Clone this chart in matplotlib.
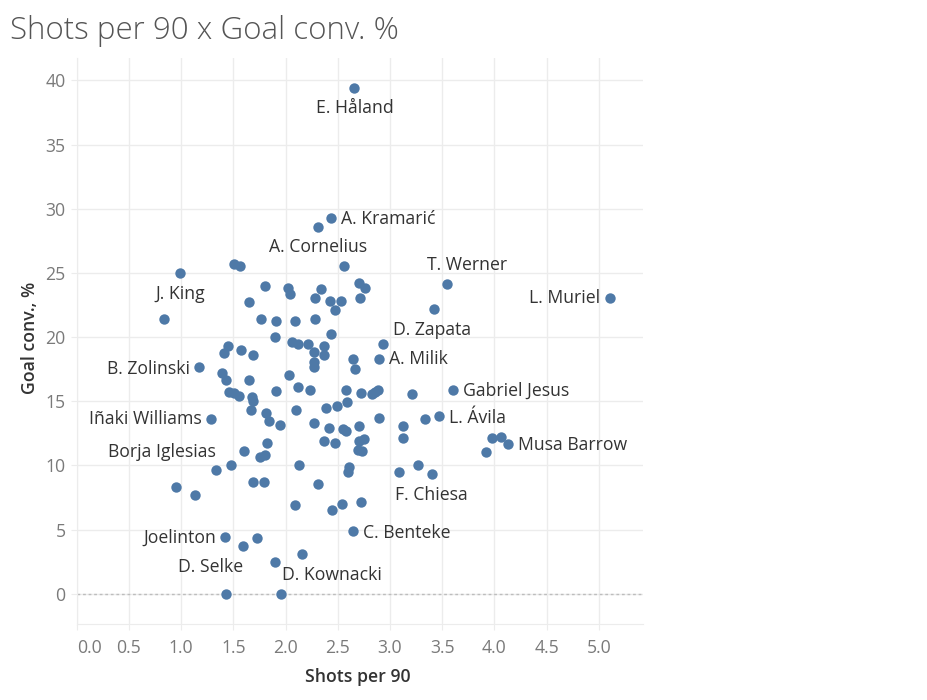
import matplotlib
matplotlib.use("Agg")
import matplotlib.pyplot as plt

# shots per 90 / goal conversion %
shots = [2.66, 2.44, 2.31, 2.56, 1.51, 1.56, 0.99, 1.80, 2.02, 2.04,
         2.34, 2.28, 2.43, 2.53, 2.47, 2.70, 2.76, 2.71, 1.65, 1.77,
         1.91, 2.09, 2.28, 0.84, 2.44, 1.90, 2.06, 2.12, 2.22, 2.27,
         2.37, 2.37, 1.45, 1.41, 1.57, 1.69, 2.27, 2.27, 2.65, 2.67,
         2.93, 2.90, 1.17, 1.39, 1.43, 1.65, 2.03, 1.46, 1.51, 1.55,
         1.68, 1.69, 1.67, 1.91, 2.12, 2.23, 2.58, 2.59, 2.72, 2.83,
         2.86, 2.89, 3.21, 3.60, 1.29, 1.81, 1.84, 1.95, 2.10, 2.39,
         2.49, 2.27, 2.42, 2.55, 2.58, 2.70, 2.90, 3.13, 3.13, 3.34,
         3.47, 1.82, 1.60, 1.76, 1.80, 2.37, 2.47, 2.70, 2.75, 2.69,
         2.73, 3.98, 4.06, 4.13, 3.92, 1.48, 1.33, 2.13, 2.61, 2.60,
         3.09, 3.27, 3.40, 0.95, 1.13, 1.69, 1.79, 2.31, 2.09, 2.45,
         2.54, 2.72, 2.65, 1.42, 1.59, 1.73, 2.16, 1.90, 1.43, 1.96,
         3.55, 3.42, 5.11]
conv = [39.42, 29.27, 28.57, 25.56, 25.66, 25.51, 24.99, 23.97, 23.79, 23.37,
        23.72, 23.06, 22.83, 22.83, 22.13, 24.23, 23.84, 23.06, 22.75, 21.43,
        21.27, 21.27, 21.43, 21.43, 20.26, 20.02, 19.63, 19.43, 19.43, 18.85,
        19.32, 18.62, 19.28, 18.78, 18.95, 18.62, 18.08, 17.69, 18.26, 17.53,
        19.48, 18.31, 17.69, 17.17, 16.65, 16.69, 17.06, 15.74, 15.64, 15.44,
        15.29, 15.03, 14.31, 15.82, 16.13, 15.87, 15.87, 14.95, 15.66, 15.58,
        15.72, 15.87, 15.56, 15.87, 13.65, 14.06, 13.48, 13.12, 14.35, 14.49,
        14.65, 13.32, 12.93, 12.83, 12.68, 13.09, 13.71, 13.09, 12.15, 13.61,
        13.87, 11.76, 11.14, 10.65, 10.83, 11.92, 11.76, 11.92, 12.03, 11.20,
        11.12, 12.15, 12.23, 11.69, 11.02, 10.03, 9.66, 10.03, 9.85, 9.46,
        9.51, 10.03, 9.35, 8.34, 7.71, 8.70, 8.70, 8.57, 6.93, 6.52,
        7.01, 7.17, 4.91, 4.44, 3.74, 4.36, 3.12, 2.49, 0.0, 0.0,
        24.15, 22.21, 23.06]
names = [""] * len(shots)
labelled = {0: "E. Håland", 1: "A. Kramarić", 2: "A. Cornelius", 6: "J. King",
            40: "D. Zapata", 41: "A. Milik", 42: "B. Zolinski", 63: "Gabriel Jesus",
            64: "Iñaki Williams", 80: "L. Ávila", 93: "Musa Barrow",
            96: "Borja Iglesias", 102: "F. Chiesa", 112: "C. Benteke",
            113: "Joelinton", 114: "D. Selke", 119: "D. Kownacki",
            120: "T. Werner", 122: "L. Muriel"}
for k, v in labelled.items():
    names[k] = v

x_ticks = [0.0, 0.5, 1.0, 1.5, 2.0, 2.5, 3.0, 3.5, 4.0, 4.5, 5.0]
y_ticks = [0, 5, 10, 15, 20, 25, 30, 35, 40]

# label placement: (dx, dy) in pixels, horizontal alignment
label_pos = {
    "E. Håland": (0, -20, "center"), "A. Kramarić": (10, -1, "left"),
    "A. Cornelius": (0, -20, "center"), "J. King": (0, -21, "center"),
    "D. Zapata": (10, 14, "left"), "A. Milik": (10, 0, "left"),
    "B. Zolinski": (-9, -2, "right"), "Gabriel Jesus": (10, -1, "left"),
    "Iñaki Williams": (-10, 0, "right"), "L. Ávila": (10, -2, "left"),
    "Musa Barrow": (10, -1, "left"), "Borja Iglesias": (0, 18, "right"),
    "F. Chiesa": (0, -21, "center"), "C. Benteke": (10, -2, "left"),
    "Joelinton": (-9, -1, "right"), "D. Selke": (0, -21, "right"),
    "D. Kownacki": (1, 19, "left"), "T. Werner": (20, 19, "center"),
    "L. Muriel": (-10, 0, "right"),
}

plt.rcParams['font.family'] = ['Open Sans', 'DejaVu Sans']

fig = plt.figure(figsize=(9.27, 7.0), dpi=100)
ax = fig.add_axes([76.7 / 927, 76 / 700, 566.6 / 927, 566 / 700])

grid_c = "#ececec"
ax.set_axisbelow(True)
ax.grid(True, color=grid_c, linewidth=1)
for s in ["top", "right"]:
    ax.spines[s].set_visible(False)
for s in ["left", "bottom"]:
    ax.spines[s].set_color(grid_c)
ax.axhline(0, color="#bdbdbd", linewidth=1, linestyle=(0, (2, 2)), zorder=1)

ax.scatter(shots, conv, s=56, color="#4e79a7", linewidths=0, zorder=3)

for xv, yv, nm in zip(shots, conv, names):
    if not nm:
        continue
    dx, dy, ha = label_pos[nm]
    ax.annotate(nm, (xv, yv), xytext=(dx, dy), textcoords="offset pixels",
                ha=ha, va="center", fontsize=12.7, color="#333333", zorder=4)

ax.set_xlim(0, 5.427)
ax.set_ylim(-2.36, 41.74)
ax.set_xticks(x_ticks)
ax.set_xticklabels(["%.1f" % t for t in x_ticks])
ax.set_yticks(y_ticks)
ax.tick_params(axis="both", length=4, color=grid_c, labelsize=12.7,
               labelcolor="#7a7a7a")
ax.tick_params(axis="x", pad=7)
ax.tick_params(axis="y", pad=4)
ax.get_xticklabels()[0].set_ha("left")

fig.text(10 / 927, 1 - 31 / 700, "Shots per 90 x Goal conv. %", fontsize=22.5,
         color="#555555", fontweight="light", va="center", ha="left")
fig.text(358 / 927, 1 - 677 / 700, "Shots per 90", fontsize=12.7,
         fontweight="semibold", color="#333333", ha="center", va="center")
fig.text(30 / 927, 1 - 338 / 700, "Goal conv., %", fontsize=12.7,
         fontweight="semibold", color="#333333", ha="center", va="center",
         rotation=90)

plt.savefig("out.png", dpi=100)
plt.close()
